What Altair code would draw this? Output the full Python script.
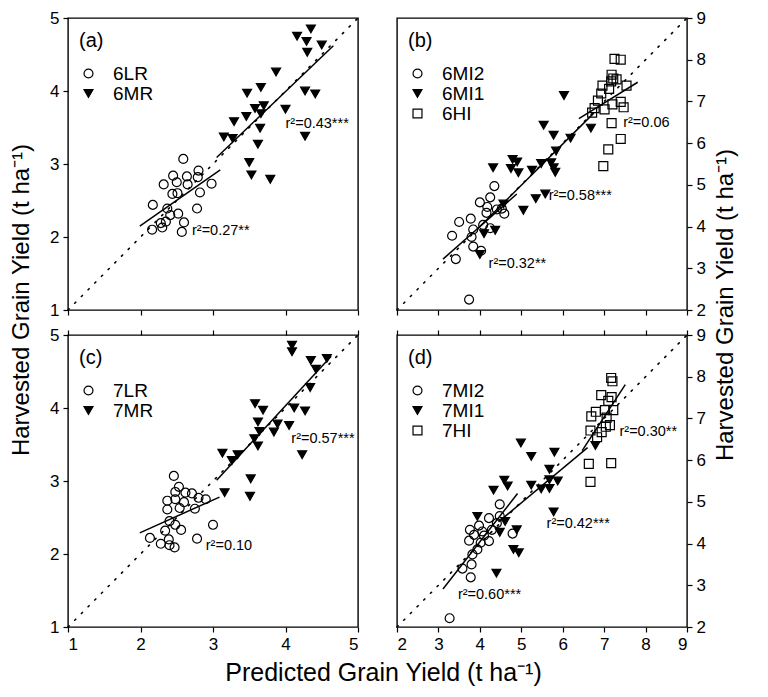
import altair as alt
import pandas as pd

FONT = "Liberation Sans"

# ---------------- Panel (a) ----------------
a_6LR_x = [2.59, 2.80, 2.45, 2.64, 2.79, 2.32, 2.50, 2.65, 2.98, 2.44, 2.51, 2.82, 2.17, 2.37, 2.78, 2.41, 2.52, 2.35, 2.28, 2.60, 2.16, 2.30, 2.57]
a_6LR_y = [3.07, 2.91, 2.84, 2.83, 2.82, 2.72, 2.75, 2.72, 2.73, 2.59, 2.60, 2.61, 2.44, 2.39, 2.39, 2.30, 2.32, 2.21, 2.19, 2.20, 2.10, 2.13, 2.07]
a_6MR_x = [4.35, 4.16, 4.29, 4.50, 4.30, 3.87, 3.47, 3.66, 4.27, 4.41, 3.58, 3.70, 3.46, 3.66, 4.00, 3.29, 3.65, 3.15, 3.27, 3.62, 4.27, 3.50, 3.53, 3.79]
a_6MR_y = [4.85, 4.75, 4.68, 4.63, 4.53, 4.26, 3.97, 4.05, 4.00, 3.96, 3.76, 3.80, 3.65, 3.69, 3.75, 3.58, 3.49, 3.37, 3.35, 3.27, 3.38, 3.02, 2.85, 2.79]
a_fit_6LR_x = [1.99, 3.10]
a_fit_6LR_y = [2.15, 2.92]
a_fit_6MR_x = [3.05, 4.66]
a_fit_6MR_y = [3.09, 4.62]
a_notes = ["r²=0.27**", "r²=0.43***"]
a_notes_x = [2.71, 4.00]
a_notes_y = [2.08, 3.55]

# ---------------- Panel (b) ----------------
b_6MI2_x = [3.74, 3.42, 3.33, 3.50, 3.78, 3.84, 3.80, 3.84, 4.03, 4.00, 4.08, 4.25, 4.18, 4.35, 4.16, 4.25, 4.53, 4.59, 4.41]
b_6MI2_y = [2.25, 3.22, 3.78, 4.11, 4.19, 3.93, 3.75, 3.52, 3.42, 4.58, 4.04, 4.70, 4.47, 4.97, 4.33, 3.96, 4.43, 4.31, 4.41]
b_6MI1_x = [4.00, 4.10, 4.37, 4.32, 4.79, 4.90, 4.75, 4.93, 5.26, 5.48, 5.72, 5.78, 5.82, 5.84, 5.54, 5.78, 6.19, 6.03, 6.68, 5.05, 5.35, 5.58, 4.57]
b_6MI1_y = [3.33, 3.83, 3.91, 5.41, 5.61, 5.55, 5.39, 5.29, 5.35, 5.51, 5.53, 5.41, 5.30, 5.81, 6.43, 6.19, 6.12, 7.14, 6.36, 4.39, 4.67, 4.78, 4.54]
b_6HI_x = [7.25, 7.40, 7.18, 7.30, 7.17, 6.96, 6.93, 7.54, 7.12, 6.85, 6.77, 6.71, 7.01, 7.20, 7.40, 7.47, 7.18, 7.40, 7.10, 6.98, 7.22]
b_6HI_y = [8.02, 8.00, 7.64, 7.53, 7.48, 7.38, 7.19, 7.38, 7.30, 7.02, 6.84, 6.73, 6.81, 6.93, 6.99, 6.86, 6.48, 6.10, 5.85, 5.45, 7.55]
b_fit_6MI2_x = [3.11, 4.89]
b_fit_6MI2_y = [3.22, 4.78]
b_fit_6MI1_x = [4.00, 6.75]
b_fit_6MI1_y = [4.00, 6.72]
b_fit_6HI_x = [6.39, 7.81]
b_fit_6HI_y = [6.59, 7.46]
b_notes = ["r²=0.06", "r²=0.58***", "r²=0.32**"]
b_notes_x = [7.46, 5.66, 4.21]
b_notes_y = [6.49, 4.74, 3.11]

# ---------------- Panel (c) ----------------
c_7LR_x = [2.46, 2.53, 2.48, 2.62, 2.71, 2.80, 2.90, 2.37, 2.48, 2.60, 2.37, 2.54, 2.75, 2.40, 2.48, 2.56, 2.34, 3.00, 2.13, 2.39, 2.28, 2.40, 2.47, 2.78]
c_7LR_y = [3.07, 2.92, 2.85, 2.84, 2.83, 2.77, 2.75, 2.73, 2.75, 2.71, 2.61, 2.63, 2.62, 2.45, 2.40, 2.33, 2.32, 2.40, 2.22, 2.20, 2.14, 2.12, 2.09, 2.21]
c_7MR_x = [4.09, 4.09, 4.35, 4.57, 4.42, 4.34, 3.58, 3.69, 4.12, 4.27, 3.62, 3.89, 4.05, 3.64, 3.84, 3.57, 3.62, 3.13, 3.34, 3.26, 4.23, 3.52, 3.16, 3.51]
c_7MR_y = [4.86, 4.77, 4.65, 4.68, 4.53, 4.28, 4.06, 3.97, 4.00, 3.96, 3.81, 3.78, 3.76, 3.68, 3.67, 3.58, 3.48, 3.38, 3.36, 3.28, 3.36, 3.03, 2.84, 2.79]
c_fit_7LR_x = [1.99, 3.09]
c_fit_7LR_y = [2.29, 2.78]
c_fit_7MR_x = [3.05, 4.63]
c_fit_7MR_y = [3.01, 4.71]
c_notes = ["r²=0.10", "r²=0.57***"]
c_notes_x = [2.90, 4.08]
c_notes_y = [2.11, 3.58]

# ---------------- Panel (d) ----------------
d_7MI2_x = [3.27, 3.78, 3.80, 3.58, 3.82, 3.74, 3.76, 3.86, 3.98, 4.06, 3.94, 4.02, 4.22, 4.10, 4.22, 4.29, 4.41, 4.48, 4.48, 4.79]
d_7MI2_y = [2.21, 3.19, 3.50, 3.40, 3.74, 4.07, 4.33, 4.21, 4.43, 4.29, 3.86, 4.02, 4.06, 4.19, 4.61, 4.33, 4.49, 4.66, 4.94, 4.24]
d_7MI1_x = [4.99, 5.24, 5.80, 5.68, 4.59, 4.67, 4.33, 5.24, 5.48, 5.68, 5.68, 5.88, 3.94, 4.61, 4.48, 4.89, 4.81, 4.94, 4.40, 5.78, 6.79]
d_7MI1_y = [6.41, 6.09, 6.19, 5.78, 5.52, 5.38, 5.28, 5.40, 5.31, 5.53, 5.32, 5.50, 4.65, 4.53, 4.27, 4.33, 3.86, 3.78, 3.29, 4.76, 6.35]
d_7HI_x = [7.17, 7.20, 6.93, 7.18, 7.10, 7.02, 7.22, 6.80, 6.69, 7.06, 7.14, 7.04, 6.67, 6.94, 6.83, 6.63, 7.17, 6.67]
d_7HI_y = [7.97, 7.89, 7.56, 7.51, 7.42, 7.20, 7.20, 7.16, 7.05, 7.02, 6.84, 6.80, 6.71, 6.67, 6.55, 5.91, 5.93, 5.48]
d_fit_7MI2_x = [3.11, 4.91]
d_fit_7MI2_y = [2.91, 5.20]
d_fit_7MI1_x = [4.45, 6.60]
d_fit_7MI1_y = [4.52, 6.30]
d_fit_7HI_x = [6.47, 7.51]
d_fit_7HI_y = [6.23, 7.81]
d_notes = ["r²=0.60***", "r²=0.42***", "r²=0.30**"]
d_notes_x = [3.47, 5.61, 7.37]
d_notes_y = [2.76, 4.47, 6.68]

Y_TITLE = "Harvested Grain Yield (t ha⁻¹)"
X_TITLE = "Predicted Grain Yield (t ha⁻¹)"

W, H = 290, 292


def long_frame(series):
    rows = []
    for name, xs, ys in series:
        for x, y in zip(xs, ys):
            rows.append({"x": x, "y": y, "series": name})
    return pd.DataFrame(rows)


def panel(letter, lo, hi, ticks, series, shapes, fills, fits, notes, nx, ny,
          y_orient, bottom_labels, top_ticks):
    xs = alt.Scale(domain=[lo, hi], nice=False, zero=False)
    ys = alt.Scale(domain=[lo, hi], nice=False, zero=False)
    order = [s[0] for s in series]

    xaxis = alt.Axis(values=ticks, labels=bottom_labels, title=None, orient="bottom",
                     grid=False, domain=False)
    yaxis = alt.Axis(values=ticks, orient=y_orient, title=None, grid=False, domain=False)
    # with an extra top-tick axis the x axes are independent, so only one layer carries it
    xo = None if top_ticks else xaxis

    def X(axis):
        if axis is None:
            return alt.X("x:Q", scale=xs, axis=None)
        return alt.X("x:Q", scale=xs, axis=axis)

    Y = alt.Y("y:Q", scale=ys, axis=yaxis)

    diag = pd.DataFrame({"x": [lo, hi], "y": [lo, hi]})
    base = alt.Chart(diag).mark_line(
        color="black", strokeWidth=1.6, strokeDash=[1.5, 8], strokeCap="round"
    ).encode(x=X(xaxis), y=Y)

    fit_lines = alt.Chart(long_frame(fits)).mark_line(color="black", strokeWidth=1.5).encode(
        x=X(xo), y=Y, detail="series:N",
    )

    leg = dict(orient="none", legendX=11, legendY=46, title=None, labelFont=FONT,
               labelFontSize=19, labelColor="black", rowPadding=0, labelOffset=15,
               symbolStrokeWidth=1.2, symbolSize=80, padding=0)
    points = alt.Chart(long_frame(series)).mark_point(
        filled=True, strokeWidth=1.2, size=80, opacity=1
    ).encode(
        x=X(xo), y=Y,
        shape=alt.Shape("series:N", scale=alt.Scale(domain=order, range=shapes),
                        sort=order, legend=alt.Legend(**leg)),
        fill=alt.Fill("series:N", scale=alt.Scale(domain=order, range=fills),
                      sort=order, legend=alt.Legend(**leg)),
        stroke=alt.Stroke("series:N", scale=alt.Scale(domain=order, range=["black"] * len(order)),
                          sort=order, legend=alt.Legend(**leg)),
    )

    note_df = pd.DataFrame({"x": nx, "y": ny, "t": notes})
    note_layer = alt.Chart(note_df).mark_text(
        align="left", baseline="middle", font=FONT, fontSize=14.5, color="black"
    ).encode(x=X(xo), y=Y, text="t:N")

    letter_layer = alt.Chart(pd.DataFrame({"t": [letter]})).mark_text(
        align="left", baseline="middle", font=FONT, fontSize=20, color="black"
    ).encode(x=alt.value(11), y=alt.value(23), text="t:N")

    layers = [base, fit_lines, points, note_layer, letter_layer]
    if top_ticks:
        top = alt.Chart(diag).mark_point(opacity=0).encode(
            x=alt.X("x:Q", scale=xs, axis=alt.Axis(values=ticks, labels=False, title=None,
                                                   orient="top", grid=False, domain=False)),
            y=Y,
        )
        layers.append(top)
        ch = alt.layer(*layers).resolve_axis(x="independent")
    else:
        ch = alt.layer(*layers)
    return ch.properties(width=W, height=H)


OPEN = "transparent"

pa = panel("(a)", 1, 5, [1, 2, 3, 4, 5],
           [("6LR", a_6LR_x, a_6LR_y), ("6MR", a_6MR_x, a_6MR_y)],
           ["circle", "triangle-down"], [OPEN, "black"],
           [("6LR", a_fit_6LR_x, a_fit_6LR_y), ("6MR", a_fit_6MR_x, a_fit_6MR_y)],
           a_notes, a_notes_x, a_notes_y, "left", False, False)

pb = panel("(b)", 2, 9, [2, 3, 4, 5, 6, 7, 8, 9],
           [("6MI2", b_6MI2_x, b_6MI2_y), ("6MI1", b_6MI1_x, b_6MI1_y), ("6HI", b_6HI_x, b_6HI_y)],
           ["circle", "triangle-down", "square"], [OPEN, "black", OPEN],
           [("6MI2", b_fit_6MI2_x, b_fit_6MI2_y), ("6MI1", b_fit_6MI1_x, b_fit_6MI1_y),
            ("6HI", b_fit_6HI_x, b_fit_6HI_y)],
           b_notes, b_notes_x, b_notes_y, "right", False, False)

pc = panel("(c)", 1, 5, [1, 2, 3, 4, 5],
           [("7LR", c_7LR_x, c_7LR_y), ("7MR", c_7MR_x, c_7MR_y)],
           ["circle", "triangle-down"], [OPEN, "black"],
           [("7LR", c_fit_7LR_x, c_fit_7LR_y), ("7MR", c_fit_7MR_x, c_fit_7MR_y)],
           c_notes, c_notes_x, c_notes_y, "left", True, True)

pd_ = panel("(d)", 2, 9, [2, 3, 4, 5, 6, 7, 8, 9],
            [("7MI2", d_7MI2_x, d_7MI2_y), ("7MI1", d_7MI1_x, d_7MI1_y), ("7HI", d_7HI_x, d_7HI_y)],
            ["circle", "triangle-down", "square"], [OPEN, "black", OPEN],
            [("7MI2", d_fit_7MI2_x, d_fit_7MI2_y), ("7MI1", d_fit_7MI1_x, d_fit_7MI1_y),
             ("7HI", d_fit_7HI_x, d_fit_7HI_y)],
            d_notes, d_notes_x, d_notes_y, "right", True, True)

grid = alt.concat(pa, pb, pc, pd_, columns=2, spacing={"row": 6, "column": 31}).resolve_scale(
    x="independent", y="independent",
    shape="independent", fill="independent", stroke="independent"
).resolve_axis(x="independent", y="independent").resolve_legend(
    shape="independent", fill="independent", stroke="independent"
)

NOVIEW = alt.ViewBackground(stroke="transparent")


def side_label(width, height, xpos, ypos):
    return alt.Chart(pd.DataFrame({"t": [Y_TITLE]})).mark_text(
        angle=270, align="center", baseline="middle", font=FONT, fontSize=24, color="black"
    ).encode(x=alt.value(xpos), y=alt.value(ypos), text="t:N").properties(
        width=width, height=height, view=NOVIEW
    )


left_lbl = side_label(38, 590, 13, 282)
right_lbl = side_label(30, 590, 17.5, 287)

chart = alt.hconcat(left_lbl, grid, right_lbl, spacing=0).properties(
    title=alt.TitleParams(X_TITLE, orient="bottom", anchor="middle", fontSize=25,
                          font=FONT, fontWeight="normal", color="black", offset=8, dx=10),
    padding={"left": 0, "top": 0, "right": 0, "bottom": 0},
).configure_view(
    stroke="black", strokeWidth=1.4
).configure_axis(
    labelFont=FONT, labelFontSize=17, labelColor="black", labelPadding=4,
    tickColor="black", tickSize=5, tickWidth=1.2, ticks=True, minExtent=0,
)

chart.save("out.html", embed_options={"renderer": "svg", "actions": False})
